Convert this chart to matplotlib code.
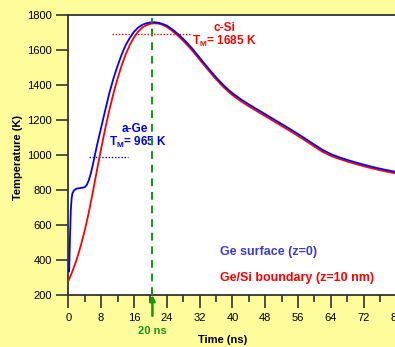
import matplotlib
matplotlib.use("Agg")
import matplotlib.pyplot as plt

plt.rcParams['font.family'] = ['Liberation Sans', 'DejaVu Sans']
plt.rcParams['mathtext.fontset'] = 'custom'
plt.rcParams['mathtext.bf'] = 'Liberation Sans:bold'
plt.rcParams['mathtext.rm'] = 'Liberation Sans'

# ---- data ----
t_surface = [0.2, 0.4, 0.6, 0.8, 1.0, 1.4, 2.0, 3.0, 4.0, 4.5, 5.0, 5.5, 6.0, 6.5, 7.0, 8.0,
             9.0, 10.0, 11.0, 12.0, 13.0, 14.0, 15.0, 16.0, 17.0, 18.0, 19.0, 20.0, 21.0,
             22.0, 23.0, 24.0, 25.0, 26.0, 27.0, 28.0, 29.0, 30.0, 31.0, 32.0, 33.0, 34.0,
             35.0, 36.0, 37.0, 38.0, 39.0, 40.0, 42.0, 44.0, 46.0, 48.0, 50.0, 52.0, 54.0,
             56.0, 58.0, 60.0, 62.0, 64.0, 66.0, 68.0, 70.0, 72.0, 74.0, 76.0, 78.0, 80.0]
T_surface = [335, 520, 680, 750, 780, 798, 807, 811, 815, 828, 855, 895, 945, 1000, 1055, 1155,
             1255, 1352, 1435, 1508, 1572, 1627, 1668, 1702, 1726, 1742, 1751, 1756, 1757,
             1754, 1747, 1738, 1722, 1704, 1684, 1662, 1638, 1612, 1584, 1555, 1526, 1498,
             1470, 1443, 1418, 1394, 1372, 1352, 1318, 1288, 1260, 1232, 1204, 1176, 1148,
             1119, 1089, 1058, 1028, 1004, 986, 971, 957, 944, 932, 921, 911, 902]

t_boundary = [0.1, 1.0, 2.0, 3.0, 4.0, 5.0, 6.0, 7.0, 8.0, 9.0, 10.0, 11.0, 12.0, 13.0, 14.0,
              15.0, 16.0, 17.0, 18.0, 19.0, 20.0, 21.0, 22.0, 23.0, 24.0, 25.0, 26.0, 27.0,
              28.0, 29.0, 30.0, 31.0, 32.0, 33.0, 34.0, 35.0, 36.0, 37.0, 38.0, 39.0, 40.0,
              42.0, 44.0, 46.0, 48.0, 50.0, 52.0, 54.0, 56.0, 58.0, 60.0, 62.0, 64.0, 66.0,
              68.0, 70.0, 72.0, 74.0, 76.0, 78.0, 80.0]
T_boundary = [285, 335, 400, 478, 568, 672, 790, 915, 1035, 1150, 1255, 1350, 1435, 1510, 1574,
              1628, 1670, 1703, 1726, 1740, 1748, 1751, 1749, 1742, 1730, 1714, 1695, 1674,
              1651, 1627, 1601, 1573, 1544, 1515, 1487, 1459, 1432, 1407, 1383, 1361, 1341,
              1307, 1277, 1249, 1221, 1193, 1165, 1137, 1108, 1078, 1047, 1017, 994, 977,
              962, 948, 935, 923, 912, 902, 893]

x_ticks = [0, 8, 16, 24, 32, 40, 48, 56, 64, 72, 80]
y_ticks = [200, 400, 600, 800, 1000, 1200, 1400, 1600, 1800]

melt_si = 1690          # dotted red marker (c-Si T_M)
melt_si_span = [10.7, 29.7]
melt_ge = 985           # dotted blue marker (a-Ge T_M)
melt_ge_span = [5.1, 14.5]
t_peak = 20.5

BG = '#FFFC9C'
BLUE = '#0000FF'
RED = '#FF0000'
GREEN = '#119911'
LBLUE = '#3B3BD6'

W, H = 395, 347
fig = plt.figure(figsize=(W / 100, H / 100), dpi=100, facecolor=BG)
x0, x1 = 68.3, 396.5
y0, y1 = 295.0, 14.7
ax = fig.add_axes([x0 / W, 1 - y0 / H, (x1 - x0) / W, (y0 - y1) / H])
ax.set_facecolor('white')
ax.set_xlim(0, 80)
ax.set_ylim(200, 1800)

ax.plot(t_boundary, T_boundary, color=RED, lw=1.3, zorder=3)
ax.plot(t_surface, T_surface, color=BLUE, lw=1.3, zorder=4)

ax.plot(melt_si_span, [melt_si, melt_si], color=RED, lw=1.0, ls=(0, (1, 1.3)), zorder=2)
ax.plot(melt_ge_span, [melt_ge, melt_ge], color=BLUE, lw=1.0, ls=(0, (1, 1.3)), zorder=2)
ax.plot([t_peak, t_peak], [200, 1780], color=GREEN, lw=1.4, ls=(0, (4, 3)), zorder=5)

# arrow below axis
ax.annotate('', xy=(t_peak, 200), xycoords='data',
            xytext=(0, -15), textcoords='offset points',
            arrowprops=dict(arrowstyle='-|>', color=GREEN, lw=1.8, mutation_scale=8,
                            shrinkA=0, shrinkB=0),
            annotation_clip=False, zorder=6)
ax.text(t_peak, -0.128, '20 ns', transform=ax.get_xaxis_transform(), color=GREEN,
        fontsize=8, fontweight='bold', ha='center', va='center', clip_on=False)

# melting point labels
ax.text(38.0, 1724, 'c-Si', color=RED, fontsize=8.5, fontweight='bold', ha='center', va='center')
ax.text(38.0, 1650, r'$\mathbf{T_M}$= 1685 K', color=RED, fontsize=8.5, fontweight='bold',
        ha='center', va='center')
ax.text(16.3, 1147, 'a-Ge', color=BLUE, fontsize=8.5, fontweight='bold', ha='center', va='center')
ax.text(16.9, 1073, r'$\mathbf{T_M}$= 965 K', color=BLUE, fontsize=8.5, fontweight='bold',
        ha='center', va='center', zorder=4)

# legend-like texts
ax.text(37.0, 445, 'Ge surface (z=0)', color=LBLUE, fontsize=9, fontweight='bold',
        ha='left', va='center')
ax.text(37.0, 297, 'Ge/Si boundary (z=10 nm)', color=RED, fontsize=9, fontweight='bold',
        ha='left', va='center')

# axes styling
for side in ['left', 'top', 'bottom', 'right']:
    ax.spines[side].set_color('#333333')
    ax.spines[side].set_linewidth(1.3)

ax.set_xticks(x_ticks)
ax.set_xticks([v + 4 for v in x_ticks[:-1]], minor=True)
ax.set_yticks(y_ticks)
ax.tick_params(axis='x', which='major', direction='out', length=9, width=1.2,
               color='#333333', labelsize=8, pad=4)
ax.tick_params(axis='x', which='minor', direction='out', length=5, width=1.2, color='#333333')
ax.tick_params(axis='y', which='major', direction='out', length=9, width=1.2,
               color='#333333', labelsize=8, pad=3)

fig.text(18 / W, 1 - 158 / H, 'Temperature (K)', rotation=90, fontsize=8, fontweight='bold',
         ha='center', va='center')
fig.text(223 / W, 1 - 340 / H, 'Time (ns)', fontsize=8, fontweight='bold',
         ha='center', va='center')

fig.savefig('out.png', dpi=100, facecolor=BG)
